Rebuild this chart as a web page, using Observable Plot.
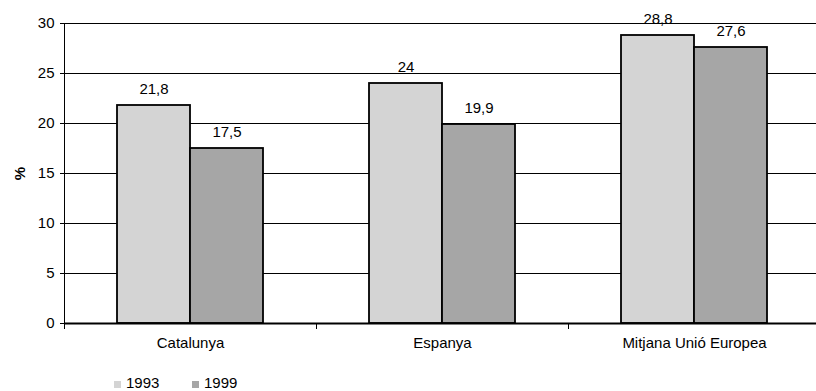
<!DOCTYPE html>
<html>
<head>
<meta charset="utf-8">
<script src="https://cdn.jsdelivr.net/npm/d3@7"></script>
<script src="https://cdn.jsdelivr.net/npm/@observablehq/plot@0.6"></script>
<style>
  html, body { margin: 0; padding: 0; background: #fff; overflow: hidden; }
  body { width: 816px; height: 391px; font-family: "Liberation Sans", Arial, Helvetica, sans-serif; }
  #chart svg { display: block; }
  g[aria-label="y-axis label"] text { font-weight: bold; }
  .legend { position: relative; height: 31px; font-size: 15px; color: #000; }
  .legend .sw { position: absolute; width: 7px; height: 7px; top: 21px; }
  .legend .lb { position: absolute; top: 15px; line-height: 15px; }
</style>
</head>
<body>
<div id="chart"></div>
<div class="legend" id="legend"></div>
<script>
const categories = ["Catalunya", "Espanya", "Mitjana Unió Europea"];
const years = ["1993", "1999"];
const values1993 = [21.8, 24, 28.8];
const values1999 = [17.5, 19.9, 27.6];
const yTicks = [0, 5, 10, 15, 20, 25, 30];
const colors = ["#d4d4d4", "#a6a6a6"];

const data = categories.flatMap((c, i) => [
  {cat: c, year: years[0], value: values1993[i]},
  {cat: c, year: years[1], value: values1999[i]}
]);
const fmt = v => String(v).replace(".", ",");

const H = 360, MT = 23, MB = 37;
const plotH = H - MT - MB;

const chart = Plot.plot({
  width: 816,
  height: H,
  marginLeft: 63,
  marginRight: -4,
  marginTop: MT,
  marginBottom: MB,
  style: {fontFamily: '"Liberation Sans", Arial, Helvetica, sans-serif', fontSize: "15px", color: "#000", background: "#fff"},
  fx: {domain: categories, padding: 0, label: null},
  x: {domain: years, paddingInner: 0, paddingOuter: 0.72, axis: null},
  y: {domain: [0, 30], label: "%"},
  color: {domain: years, range: colors},
  marks: [
    Plot.ruleY(yTicks.filter(t => t > 0), {stroke: "#000", strokeWidth: 1}),
    Plot.barY(data, {fx: "cat", x: "year", y: "value", fill: "year", stroke: "#000", strokeWidth: 1.8}),
    Plot.text(data, {fx: "cat", x: "year", y: "value", text: d => fmt(d.value), lineAnchor: "bottom", dy: -12, fontSize: 15, fill: "#000"}),
    Plot.ruleY([0], {stroke: "#000", strokeWidth: 2}),
    Plot.frame({anchor: "left", facetAnchor: "left", stroke: "#000", strokeWidth: 1}),
    Plot.frame({anchor: "left", insetTop: plotH, insetBottom: -5, stroke: "#000", strokeWidth: 1}),
    Plot.axisY({ticks: yTicks, tickSize: 4, tickPadding: 6, label: "%", labelAnchor: "center", labelArrow: "none", labelOffset: 50, fontSize: 15}),
    Plot.axisFx({anchor: "bottom", tickSize: 0, tickPadding: 14, label: null, fontSize: 15})
  ]
});
document.getElementById("chart").appendChild(chart);

const legend = document.getElementById("legend");
const legendX = [[114, 126], [192, 204]];
years.forEach((y, i) => {
  const sw = document.createElement("span");
  sw.className = "sw";
  sw.style.left = legendX[i][0] + "px";
  sw.style.background = colors[i];
  legend.appendChild(sw);
  const lb = document.createElement("span");
  lb.className = "lb";
  lb.style.left = legendX[i][1] + "px";
  lb.textContent = y;
  legend.appendChild(lb);
});
</script>
</body>
</html>
